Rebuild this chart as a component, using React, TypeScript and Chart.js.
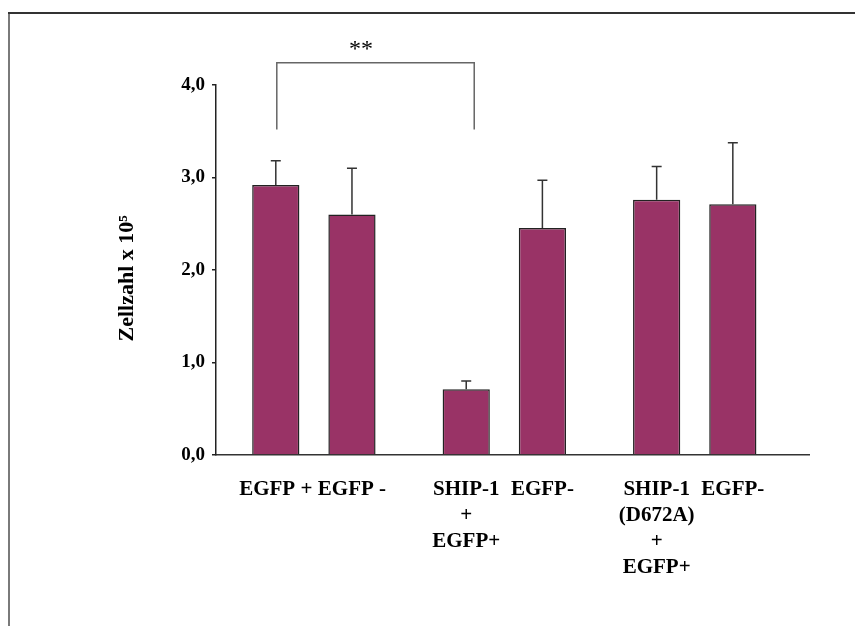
import React, { useEffect, useRef } from "react";
import { Chart, registerables } from "chart.js";

Chart.register(...registerables);

// ---- data ----
const categories: string[][] = [
  ["EGFP +"],
  ["EGFP -"],
  ["SHIP-1", "+", "EGFP+"],
  ["EGFP-"],
  ["SHIP-1", "(D672A)", "+", "EGFP+"],
  ["EGFP-"],
];
const groupOf = [0, 0, 1, 1, 2, 2];
const means = [2.92, 2.6, 0.71, 2.455, 2.76, 2.71];
const sdUpper = [0.26, 0.5, 0.09, 0.515, 0.36, 0.665];
const yMin = 0;
const yMax = 4;
const yStep = 1;
const yTitle = "Zellzahl x 10\u2075";
const sigPair = [0, 2];
const sigLabel = "**";
const sigBracketTop = 4.24;
const sigBracketLegEnd = 3.52;

// slot index of each bar: two slots per bar, one extra slot between groups
const positions = categories.map((_, i) => 2 * i + groupOf[i]);

const FONT = "'Liberation Serif', 'Times New Roman', Times, serif";

const decorPlugin = {
  id: "decor",
  beforeDraw(chart: any) {
    const { ctx, width, height } = chart;
    ctx.save();
    ctx.lineWidth = 2;
    ctx.strokeStyle = "#7a7a7a";
    ctx.beginPath();
    ctx.moveTo(1, 5);
    ctx.lineTo(1, height);
    ctx.stroke();
    ctx.lineWidth = 2;
    ctx.strokeStyle = "#333";
    ctx.beginPath();
    ctx.moveTo(0, 5);
    ctx.lineTo(width, 5);
    ctx.stroke();
    ctx.restore();
  },
  afterDatasetsDraw(chart: any) {
    const { ctx } = chart;
    const ys = chart.scales.y;
    const meta = chart.getDatasetMeta(0);
    ctx.save();
    ctx.strokeStyle = "#333";
    ctx.lineWidth = 1.5;
    meta.data.forEach((bar: any, i: number) => {
      const top = ys.getPixelForValue(means[i] + sdUpper[i]);
      ctx.beginPath();
      ctx.moveTo(bar.x, bar.y);
      ctx.lineTo(bar.x, top);
      ctx.moveTo(bar.x - 5, top);
      ctx.lineTo(bar.x + 5, top);
      ctx.stroke();
    });
    // significance bracket
    const a = meta.data[sigPair[0]];
    const b = meta.data[sigPair[1]];
    const yTop = ys.getPixelForValue(sigBracketTop);
    const yLeg = ys.getPixelForValue(sigBracketLegEnd);
    ctx.strokeStyle = "#666";
    ctx.lineWidth = 1.5;
    ctx.beginPath();
    ctx.moveTo(a.x + 1, yLeg);
    ctx.lineTo(a.x + 1, yTop);
    ctx.lineTo(b.x + 8, yTop);
    ctx.lineTo(b.x + 8, yLeg);
    ctx.stroke();
    ctx.fillStyle = "#000";
    ctx.font = `24px ${FONT}`;
    ctx.textAlign = "center";
    ctx.textBaseline = "alphabetic";
    ctx.fillText(sigLabel, (a.x + b.x) / 2 - 10, yTop - 7);
    ctx.restore();
  },
};

export default function App() {
  const ref = useRef<HTMLCanvasElement | null>(null);

  useEffect(() => {
    if (!ref.current) return;
    Chart.defaults.font.family = FONT;
    const chart = new Chart(ref.current, {
      type: "bar",
      data: {
        datasets: [
          {
            data: means.map((m, i) => ({ x: positions[i], y: m })) as any,
            backgroundColor: "#993366",
            borderColor: "#222",
            borderWidth: 1.5,
            barPercentage: 0.62,
            categoryPercentage: 1,
          },
        ],
      },
      options: {
        animation: false,
        responsive: true,
        maintainAspectRatio: false,
        layout: { padding: { left: 0, right: 54, top: 77, bottom: 0 } },
        plugins: {
          legend: { display: false },
          tooltip: { enabled: false },
        },
        scales: {
          x: {
            type: "linear",
            min: -1.57,
            max: 14.0,
            bounds: "data",
            offset: false,
            grid: { display: false },
            border: { display: true, color: "#333", width: 1.5 },
            ticks: {
              autoSkip: false,
              maxRotation: 0,
              minRotation: 0,
              padding: 13,
              color: "#000",
              font: { family: FONT, size: 21, weight: "bold", lineHeight: 1.25 },
              callback: (v: any) => {
                const i = positions.indexOf(Number(v));
                return i >= 0 ? categories[i] : "";
              },
            },
            afterBuildTicks: (s: any) => {
              s.ticks = positions.map((v) => ({ value: v }));
            },
            afterFit: (s: any) => {
              s.height = 179;
            },
          } as any,
          y: {
            min: yMin,
            max: yMax,
            ticks: {
              stepSize: yStep,
              padding: 7,
              color: "#000",
              font: { family: FONT, size: 19, weight: "bold" },
              callback: (v: any) => Number(v).toFixed(1).replace(".", ","),
            },
            grid: {
              drawOnChartArea: false,
              drawTicks: true,
              tickLength: 4,
              color: "#222",
              lineWidth: 1.5,
            },
            border: { display: true, color: "#222", width: 1.5 },
            title: {
              display: true,
              text: yTitle + "   ",
              color: "#000",
              font: { family: FONT, size: 22, weight: "bold" },
              padding: { top: 106, bottom: 0 },
            },
            afterFit: (s: any) => {
              s.width = 208;
            },
          } as any,
        },
      },
      plugins: [decorPlugin],
    });
    return () => chart.destroy();
  }, []);

  return (
    <div style={{ width: 855, height: 626, marginBottom: -8, position: "relative" }}>
      <canvas ref={ref} />
    </div>
  );
}
